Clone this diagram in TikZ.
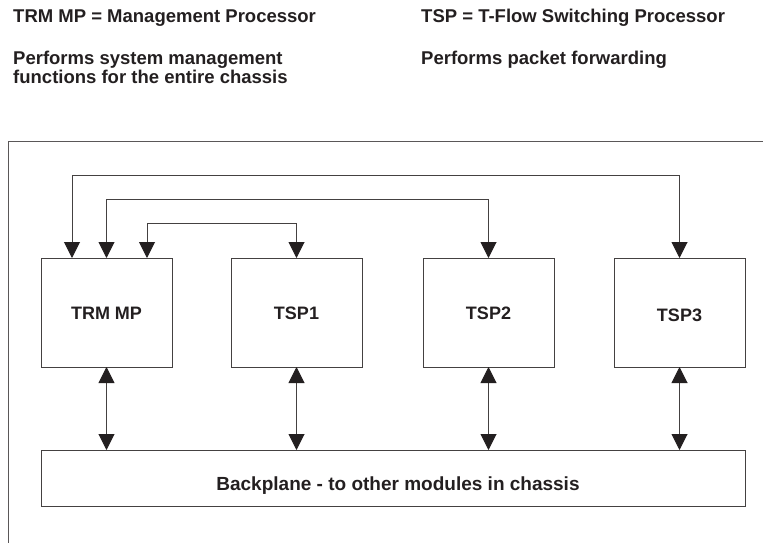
\documentclass[tikz,border=0pt]{standalone}
\usepackage{fontspec}
\setmainfont{Liberation Sans}
\usetikzlibrary{arrows.meta,calc}
\definecolor{ink}{HTML}{231F20}
\begin{document}
\begin{tikzpicture}[x=1pt,y=-1pt,
  every node/.style={font=\bfseries, text=ink},
  hdr/.style={anchor=base west, inner sep=0pt, font=\bfseries\fontsize{18.5}{19.5}\selectfont},
  unit/.style={draw=ink!85, line width=1pt, minimum width=131pt, minimum height=109pt, inner sep=0pt, outer sep=0pt,
    font=\bfseries\fontsize{18}{20}\selectfont, text height=13pt, text depth=0pt},
  bplane/.style={draw=ink!85, line width=1pt, minimum width=704pt, minimum height=56pt, inner sep=0pt, outer sep=0pt,
    font=\bfseries\fontsize{19}{21}\selectfont, text height=24pt, text depth=0pt},
  link/.style={draw=ink!85, line width=1pt, {Triangle[width=16pt,length=16pt,color=ink]}-{Triangle[width=16pt,length=16pt,color=ink]}}
]
\useasboundingbox (0,0) rectangle (763,543);
% outer frame (only left and top edges visible)
\draw[draw=ink!75, line width=1pt] (8,543) -- (8,141) -- (763,141);

% header texts
\node[hdr] (h1) at (13,23) {TRM MP = Management Processor};
\node[hdr] (h2) at (13,65) {Performs system management};
\node[hdr] (h2b) at (13,84) {functions for the entire chassis};
\node[hdr] (h3) at (421,23) {TSP = T-Flow Switching Processor};
\node[hdr] (h4) at (421,65) {Performs packet forwarding};

% units
\node[unit] (trm) at (106.5,312.5) {TRM MP};
\node[unit] (tsp1) at (296.5,312.5) {TSP1};
\node[unit] (tsp2) at (488.5,312.5) {TSP2};
\node[unit, text height=17pt] (tsp3) at (679.5,312.5) {TSP3};
\node[bplane] (bp) at (393,478) {\hspace*{10pt}Backplane - to other modules in chassis};

% top connectors
\coordinate (r1) at (72,175);
\coordinate (r2) at (106.5,199);
\coordinate (r3) at (147,223);
\draw[link] (trm.north -| r1) -- (r1) -| (tsp3.north);
\draw[link] (trm.north) -- (r2) -| (tsp2.north);
\draw[link] (trm.north -| r3) -- (r3) -| (tsp1.north);

% backplane connectors
\draw[link] (trm.south) -- (trm.south |- bp.north);
\draw[link] (tsp1.south) -- (tsp1.south |- bp.north);
\draw[link] (tsp2.south) -- (tsp2.south |- bp.north);
\draw[link] (tsp3.south) -- (tsp3.south |- bp.north);
\end{tikzpicture}
\end{document}
